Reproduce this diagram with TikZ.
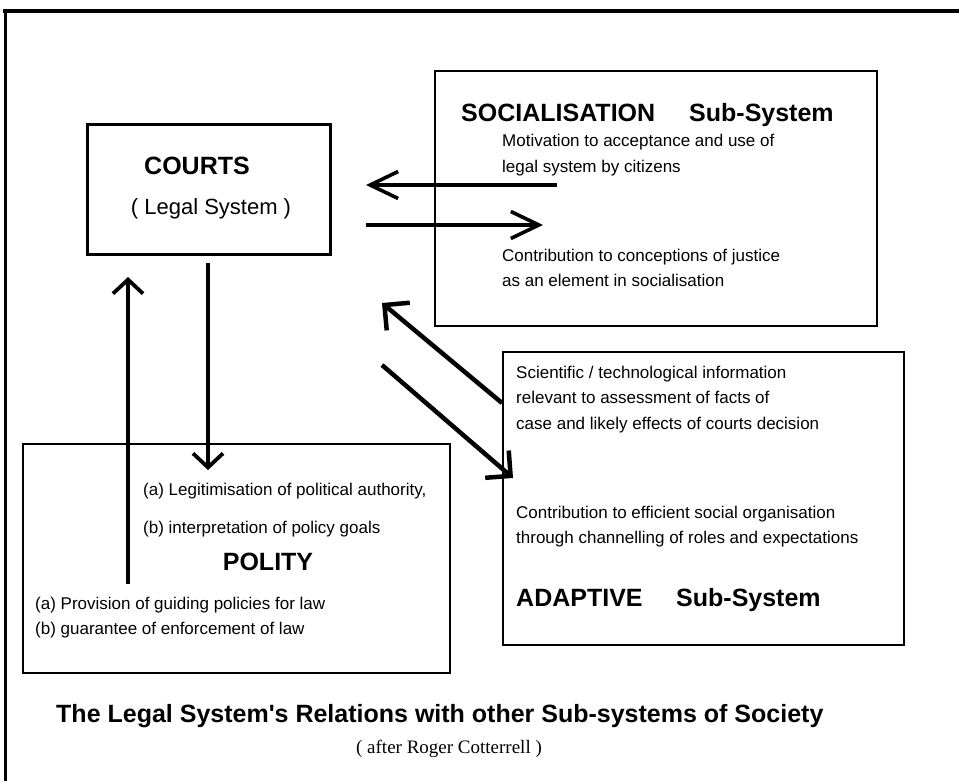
\documentclass[tikz,border=0pt]{standalone}
\usepackage{fontspec}
\setmainfont{Liberation Sans}
\newfontfamily\titlefont{Liberation Sans}[Ligatures=ResetAll]
\newfontfamily\serifrm{Liberation Serif}
\usetikzlibrary{arrows.meta}
\begin{document}
\begin{tikzpicture}[x=1pt,y=-1pt,
  box/.style={draw, line width=2.2pt, inner sep=0pt, anchor=north west},
  body/.style={font=\fontsize{17}{20}\selectfont, anchor=base west, inner sep=0pt},
  head/.style={font=\fontsize{25}{30}\selectfont\bfseries, inner sep=0pt},
  harrow/.style={line width=3.6pt, -{Straight Barb[length=28pt,width=27pt]}},
  varrow/.style={line width=3.8pt, -{Straight Barb[length=14pt,width=30pt]}},
  darrow/.style={line width=4.5pt, -{Straight Barb[length=18pt,width=36pt]}}
]
\useasboundingbox (0,0) rectangle (959,781);
% frame
\draw[line width=4pt] (3,11) -- (959,11);
\draw[line width=3pt] (5,9) -- (5,781);

% boxes
\node[box, line width=3.4pt, minimum width=243pt, minimum height=130pt] (courts) at (86,123) {};
\node[box, minimum width=442pt, minimum height=255pt] (soc) at (434,70) {};
\node[box, minimum width=401pt, minimum height=293pt] (adapt) at (502,351) {};
\node[box, minimum width=427pt, minimum height=229pt] (polity) at (22,443) {};

% courts text
\node[head] (courtsT) at (197,166) {COURTS};
\node[font=\fontsize{22}{26}\selectfont, inner sep=0pt] (courtsS) at (211,209) {( Legal System )};

% socialisation text
\node[head, anchor=base west] (socH) at (461,122) {SOCIALISATION};
\node[head, anchor=base west] (socH2) at (689,122) {Sub-System};
\node[body] (soc1) at (502,147) {Motivation to acceptance and use of};
\node[body] (soc2) at (502,172) {legal system by citizens};
\node[body] (soc3) at (502,261) {Contribution to conceptions of justice};
\node[body] (soc4) at (502,286) {as an element in socialisation};

% adaptive text
\node[body] (ad1) at (516,378) {Scientific / technological information};
\node[body] (ad2) at (516,403) {relevant to assessment of facts of};
\node[body] (ad3) at (516,429) {case and likely effects of courts decision};
\node[body] (ad4) at (516,518) {Contribution to efficient social organisation};
\node[body] (ad5) at (516,543) {through channelling of roles and expectations};
\node[head, anchor=base west] (adH) at (516,606) {ADAPTIVE};
\node[head, anchor=base west] (adH2) at (676,606) {Sub-System};

% polity text
\node[body] (po1) at (143,495) {(a) Legitimisation of political authority,};
\node[body] (po2) at (143,533) {(b) interpretation of policy goals};
\node[head] (poH) at (268,562) {POLITY};
\node[body] (po3) at (35,609) {(a) Provision of guiding policies for law};
\node[body] (po4) at (35,634) {(b) guarantee of enforcement of law};

% title
\node[head, font=\titlefont\fontsize{25}{30}\selectfont\bfseries, anchor=base west] (title) at (56,722) {The Legal System's Relations with other Sub-systems of Society};
\node[font=\serifrm\fontsize{19}{22}\selectfont, inner sep=0pt] (sub) at (449,749) {( after Roger Cotterrell )};

% arrow end points
\coordinate (h1s) at (557,185); \coordinate (h1e) at (366,185);
\coordinate (h2s) at (366,225); \coordinate (h2e) at (543,225);
\coordinate (v1s) at (128,584); \coordinate (v1e) at (128,277);
\coordinate (v2s) at (208,263); \coordinate (v2e) at (208,470);
\coordinate (d1s) at (502,403); \coordinate (d1e) at (382,303);
\coordinate (d2s) at (382,365); \coordinate (d2e) at (513,478);

\draw[harrow] (h1s) -- (h1e);
\draw[harrow] (h2s) -- (h2e);
\draw[varrow] (v1s) -- (v1e);
\draw[varrow] (v2s) -- (v2e);
\draw[darrow] (d1s) -- (d1e);
\draw[darrow] (d2s) -- (d2e);
\end{tikzpicture}
\end{document}
